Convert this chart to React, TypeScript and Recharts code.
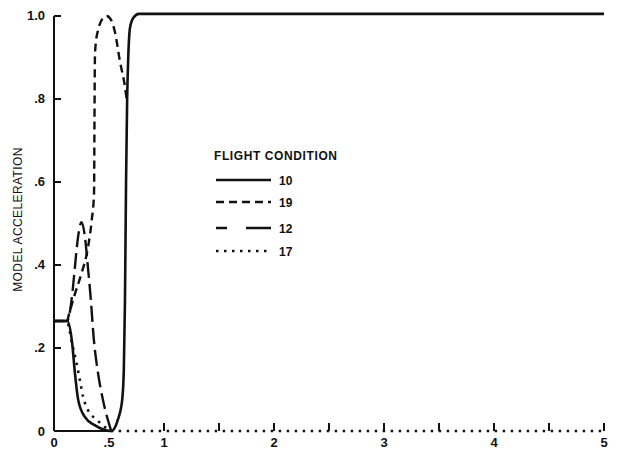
import React from 'react';
import { LineChart, Line, XAxis, YAxis, Legend, ReferenceLine } from 'recharts';

// Flight condition 10 (solid)
const FC10_X = [0, 0.12, 0.165, 0.19, 0.22, 0.28, 0.37, 0.52, 0.58, 0.62, 0.635, 0.645, 0.655, 0.665, 0.675, 0.69, 0.72, 0.77, 5];
const FC10_Y = [0.265, 0.265, 0.212, 0.14, 0.075, 0.034, 0.014, 0, 0.027, 0.075, 0.15, 0.31, 0.6, 0.8, 0.9, 0.97, 0.995, 1.005, 1.005];

// Flight condition 19 (short dash)
const FC19_X = [0, 0.12, 0.13, 0.19, 0.25, 0.31, 0.343, 0.364, 0.368, 0.372, 0.38, 0.40, 0.44, 0.48, 0.52, 0.555, 0.6, 0.645, 0.665];
const FC19_Y = [0.265, 0.265, 0.275, 0.33, 0.38, 0.444, 0.508, 0.573, 0.75, 0.9, 0.935, 0.965, 0.993, 1.0, 0.99, 0.96, 0.89, 0.83, 0.79];

// Flight condition 12 (long dash)
const FC12_X = [0, 0.12, 0.17, 0.19, 0.22, 0.25, 0.28, 0.31, 0.335, 0.36, 0.40, 0.445, 0.52];
const FC12_Y = [0.265, 0.265, 0.34, 0.395, 0.47, 0.503, 0.47, 0.39, 0.316, 0.227, 0.14, 0.075, 0];

// Flight condition 17 (dotted)
const FC17_X = [0, 0.12, 0.135, 0.165, 0.205, 0.235, 0.265, 0.31, 0.39, 0.46, 0.52, 5];
const FC17_Y = [0.265, 0.265, 0.25, 0.21, 0.164, 0.123, 0.082, 0.05, 0.027, 0.01, 0, 0];

const X_TICKS = [0, 0.5, 1, 1.5, 2, 2.5, 3, 3.5, 4, 4.5, 5];
const X_TICK_LABELS: Record<string, string> = { '0': '0', '0.5': '.5', '1': '1', '2': '2', '3': '3', '4': '4', '5': '5' };
const Y_TICKS = [0, 0.2, 0.4, 0.6, 0.8, 1.0];
const Y_TICK_LABELS = ['0', '.2', '.4', '.6', '.8', '1.0'];

const LEGEND_TITLE = 'FLIGHT CONDITION';
const LEGEND_LABELS = ['10', '19', '12', '17'];

const toPoints = (xs: number[], ys: number[]) => xs.map((x, i) => ({ x, y: ys[i] }));

const fc10 = toPoints(FC10_X, FC10_Y);
const fc19 = toPoints(FC19_X, FC19_Y);
const fc12 = toPoints(FC12_X, FC12_Y);
const fc17 = toPoints(FC17_X, FC17_Y);

const INK = '#111';
const FONT = '"Liberation Sans", Arial, sans-serif';

const DASH_19 = '8 5';
const DASH_12 = '16 6';
const DASH_17 = '2.5 5.5';

const XTick = (props: any) => {
  const { x, y, payload } = props;
  const v = payload.value;
  const label = X_TICK_LABELS[String(v)];
  return (
    <g>
      {v >= 1 && <line x1={x} y1={y} x2={x} y2={y - 8} stroke={INK} strokeWidth={2} />}
      {label !== undefined && (
        <text x={x} y={y + 16} textAnchor="middle" fontFamily={FONT} fontSize={13} fontWeight={700} fill={INK}>
          {label}
        </text>
      )}
    </g>
  );
};

const YTick = (props: any) => {
  const { x, y, payload } = props;
  const idx = Y_TICKS.indexOf(payload.value);
  return (
    <g>
      {payload.value > 0 && <line x1={x} y1={y} x2={x + 7} y2={y} stroke={INK} strokeWidth={2} />}
      <text x={x - 9} y={y + 4.5} textAnchor="end" fontFamily={FONT} fontSize={13} fontWeight={700} fill={INK}>
        {Y_TICK_LABELS[idx]}
      </text>
    </g>
  );
};

const YLabel = (props: any) => {
  const vb = props.viewBox || { x: 0, y: 12, width: 54, height: 419 };
  const cx = vb.x + 18;
  const cy = vb.y + vb.height / 2 - 2;
  return (
    <text
      x={cx}
      y={cy}
      transform={`rotate(-90 ${cx} ${cy})`}
      textAnchor="middle"
      dominantBaseline="central"
      fontFamily={FONT}
      fontSize={12}
      letterSpacing={0.4}
      fill={INK}
    >
      MODEL ACCELERATION
    </text>
  );
};

const legendDashes = ['none', DASH_19, '11 19 25 60', DASH_17];
const legendRows = [35, 57, 83, 106];

const LegendBox = () => (
  <svg width={140} height={115} style={{ display: 'block', overflow: 'visible' }}>
    <text x={4} y={15} fontFamily={FONT} fontSize={12} fontWeight={700} letterSpacing={0.6} fill={INK}>
      {LEGEND_TITLE}
    </text>
    {LEGEND_LABELS.map((lab, i) => (
      <g key={lab}>
        <line
          x1={6}
          y1={legendRows[i]}
          x2={61}
          y2={legendRows[i]}
          stroke={INK}
          strokeWidth={2.5}
          strokeDasharray={legendDashes[i]}
        />
        <text x={69} y={legendRows[i] + 4.5} fontFamily={FONT} fontSize={12} fontWeight={700} fill={INK}>
          {lab}
        </text>
      </g>
    ))}
  </svg>
);

export default function App() {
  return (
    <div style={{ position: 'absolute', left: 0, top: 0, width: 617, height: 468, background: '#fff' }}>
      <LineChart width={617} height={468} margin={{ top: 12, right: 13, bottom: 0, left: 0 }}>
        <XAxis
          type="number"
          dataKey="x"
          domain={[0, 5]}
          ticks={X_TICKS}
          interval={0}
          axisLine={false}
          tickLine={false}
          tickSize={0}
          tickMargin={0}
          height={37}
          tick={(p: any) => <XTick {...p} />}
        />
        <YAxis
          type="number"
          dataKey="y"
          domain={[0, 1.0096]}
          ticks={Y_TICKS}
          interval={0}
          axisLine={false}
          tickLine={false}
          tickSize={0}
          tickMargin={0}
          width={54}
          tick={(p: any) => <YTick {...p} />}
          label={(p: any) => <YLabel {...p} />}
        />
        <ReferenceLine segment={[{ x: 0, y: 0 }, { x: 0, y: 1 }]} stroke={INK} strokeWidth={2} />
        <ReferenceLine segment={[{ x: 0, y: 0 }, { x: 0.52, y: 0 }]} stroke={INK} strokeWidth={2} />
        <Line data={fc17} dataKey="y" type="monotone" stroke={INK} strokeWidth={2.6} strokeDasharray={DASH_17} dot={false} isAnimationActive={false} />
        <Line data={fc12} dataKey="y" type="monotone" stroke={INK} strokeWidth={2.4} strokeDasharray={DASH_12} dot={false} isAnimationActive={false} />
        <Line data={fc19} dataKey="y" type="monotone" stroke={INK} strokeWidth={2.4} strokeDasharray={DASH_19} dot={false} isAnimationActive={false} />
        <Line data={fc10} dataKey="y" type="monotone" stroke={INK} strokeWidth={2.6} dot={false} isAnimationActive={false} />
        <Legend
          layout="vertical"
          align="center"
          verticalAlign="middle"
          content={() => <LegendBox />}
          wrapperStyle={{ position: 'absolute', left: 210, top: 145, width: 140, height: 115 }}
        />
      </LineChart>
    </div>
  );
}
